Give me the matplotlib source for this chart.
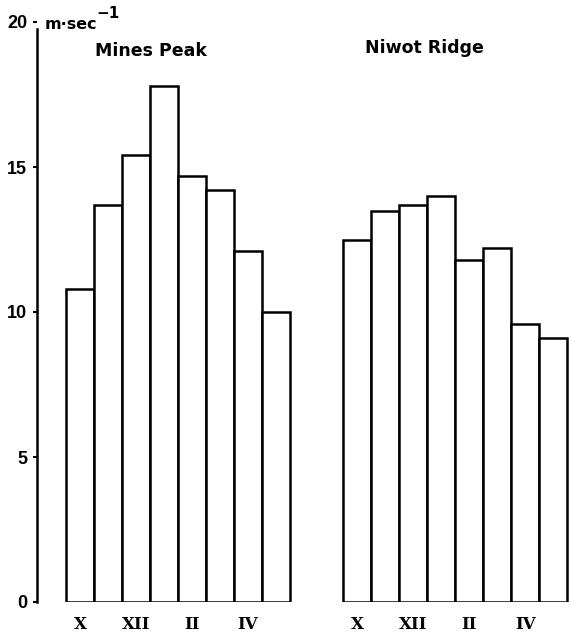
import matplotlib
matplotlib.use("Agg")
import matplotlib.pyplot as plt
import numpy as np

# monthly mean wind speed, m/sec, October..May
months = ["X", "XI", "XII", "I", "II", "III", "IV", "V"]
mines_peak = [10.8, 13.7, 15.4, 17.8, 14.7, 14.2, 12.1, 10.0]
niwot_ridge = [12.5, 13.5, 13.7, 14.0, 11.8, 12.2, 9.6, 9.1]
station_names = ["Mines Peak", "Niwot Ridge"]
yticks = [0, 5, 10, 15, 20]
shown_months = ["X", "XII", "II", "IV"]

GROUP2_OFFSET = 9.9

fig = plt.figure(figsize=(5.71, 6.37), dpi=100)
ax = fig.add_axes([37 / 571, 35 / 637, 534 / 571, 580 / 637])

x1 = np.arange(len(months))
x2 = x1 + GROUP2_OFFSET
for x, vals in [(x1, mines_peak), (x2, niwot_ridge)]:
    ax.bar(x, vals, width=1.0, facecolor="white", edgecolor="black",
           linewidth=1.8, align="center", zorder=3)

ax.set_xlim(-1.536, 17.536)
ax.set_ylim(0, 20)

for side in ["top", "right", "bottom"]:
    ax.spines[side].set_visible(False)
ax.spines["left"].set_linewidth(1.8)
ax.spines["left"].set_bounds(0, 19.75)

ax.set_yticks(yticks)
ax.set_yticklabels([str(t) for t in yticks], family="Liberation Sans",
                   fontsize=13, fontweight="bold")
ax.tick_params(axis="y", direction="out", length=3, width=1.5, pad=4)

tick_pos = [x1[months.index(m)] for m in shown_months] + \
           [x2[months.index(m)] for m in shown_months]
ax.set_xticks(tick_pos)
ax.set_xticklabels(shown_months * 2, family="DejaVu Serif",
                   fontsize=12, fontweight="bold")
ax.tick_params(axis="x", length=0, pad=10)

ax.text(-1.25, 19.9, "m\u00b7sec", fontsize=11.5, fontweight="bold",
        ha="left", va="center")
ax.text(0.6, 20.3, "\u22121", fontsize=11, fontweight="bold",
        ha="left", va="center", clip_on=False)
ax.text(0.54, 19.0, station_names[0], fontsize=12.5, fontweight="bold",
        ha="left", va="center")
ax.text(10.18, 19.1, station_names[1], fontsize=12.5, fontweight="bold",
        ha="left", va="center")

fig.savefig("out.png", dpi=100)
